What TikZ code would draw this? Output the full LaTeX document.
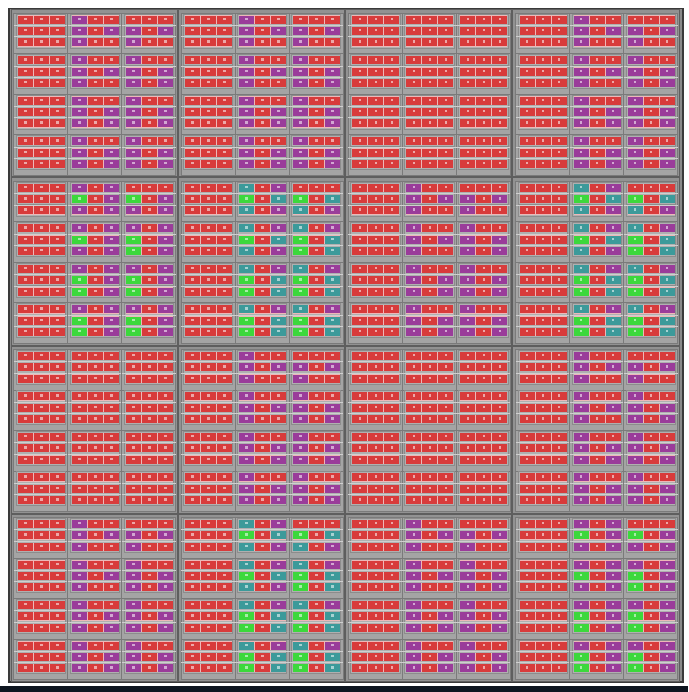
\documentclass[tikz,border=0pt]{standalone}
\usepackage{tikz}
\definecolor{rackred}{HTML}{D83B3B}
\definecolor{rackpurple}{HTML}{9A3C9A}
\definecolor{rackgreen}{HTML}{3CD83C}
\definecolor{rackteal}{HTML}{3C9A9A}
\definecolor{caseedge}{HTML}{3A3A3A}
\definecolor{casefill}{HTML}{8A8A8A}
\definecolor{blockedge}{HTML}{5E5E5E}
\definecolor{blockfill}{HTML}{929292}
\definecolor{subedge}{HTML}{7A7A7A}
\definecolor{subfill}{HTML}{A4A4A4}
\definecolor{rowedge}{HTML}{8C8C8C}
\definecolor{rowfill}{HTML}{B0B0B0}
\definecolor{seam}{HTML}{CFCFCF}
\definecolor{cellgap}{HTML}{EDB8B8}
\definecolor{screenbar}{HTML}{0E1620}

% colours of the first and last cell of a row: type, sub row, sub column, cell row
\newcommand\setrowcolours[4]{%
  \def\cola{rackred}\def\colc{rackred}%
  \pgfmathtruncatemacro\onx{(#4==1)||((#4==2)&&(#2+#3>=3))}%
  \pgfmathtruncatemacro\allred{(#1==0)||(#3==0)||((#3==2)&&(#2==0)&&(#4==0))}%
  \ifnum\allred=0
    \ifcase#1\or
      \def\cola{rackpurple}\ifnum\onx=1 \def\colc{rackpurple}\fi
    \or
      \def\colc{rackpurple}%
      \ifnum\onx=1 \def\cola{rackgreen}\else\def\cola{rackpurple}\fi
    \or
      \ifnum\onx=1 \def\cola{rackgreen}\def\colc{rackteal}%
      \else\def\cola{rackteal}\def\colc{rackpurple}\fi
    \fi
  \fi}

\begin{document}
\begin{tikzpicture}[x=1pt,y=-1pt,
case/.style={draw=caseedge,fill=casefill,line width=1.6pt},
blockbox/.style={draw=blockedge,fill=blockfill,line width=1pt},
subbox/.style={draw=subedge,fill=subfill,line width=.8pt},
rowbox/.style={draw=rowedge,fill=rowfill,line width=.7pt},
seamline/.style={draw=seam,line width=.8pt}]
\useasboundingbox (0,0) rectangle (688,692);
\fill[screenbar] (0,686) rectangle (688,692);
\draw[case] (8.8,8.6) rectangle (682.7,682.2);
\foreach \br in {0,...,3}
\foreach \bc in {0,...,3}{
  \pgfmathsetmacro\bx{11+167.3*\bc}
  \pgfmathsetmacro\by{9.9+168.1*\br}
  \pgfmathtruncatemacro\btype{{1,1,0,1,2,3,1,3,0,1,0,1,1,3,1,2}[4*\br+\bc]}
  \draw[blockbox] (\bx,\by) rectangle ++(166.3,167.1);
  \foreach \sr in {0,...,3}
  \foreach \sc in {0,1,2}{
    \pgfmathsetmacro\sx{\bx+2.7+54*\sc}
    \pgfmathsetmacro\sy{\by+3.3+40.5*\sr}
    \draw[subbox] (\sx,\sy) rectangle ++(54,40.5);
    \foreach \cr in {0,1,2}{
      \pgfmathsetmacro\ry{\sy+2.5+11.35*\cr}
      \draw[rowbox] (\sx+2.3,\ry-1.6) rectangle ++(49.4,11.2);
      \fill[cellgap] (\sx+4,\ry-.2) rectangle ++(47,8.4);
      \setrowcolours{\btype}{\sr}{\sc}{\cr}
      \foreach \cc/\cl in {0/\cola,1/rackred,2/\colc}{
        \pgfmathsetmacro\cx{\sx+4+16*\cc}
        \fill[fill=\cl] (\cx,\ry) rectangle ++(15,8);
        \fill[fill=\cl!45!white] (\cx+6.2,\ry+2) rectangle ++(2.6,2.4);
      }
    }
    \draw[seamline] (\sx,\sy+12.3) -- ++(54,0);
    \draw[seamline] (\sx,\sy+23.65) -- ++(54,0);
  }
}
\end{tikzpicture}
\end{document}
